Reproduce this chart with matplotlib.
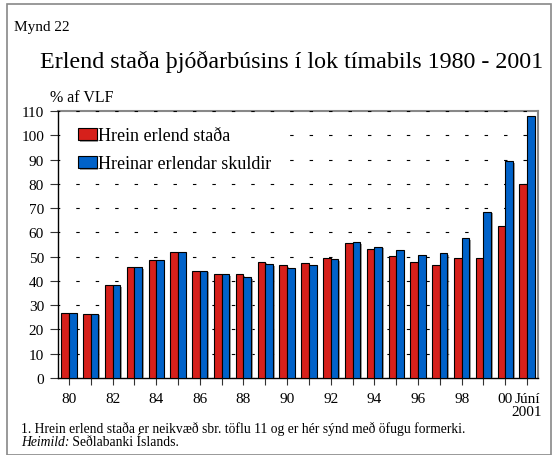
import matplotlib
matplotlib.use("Agg")
import matplotlib.pyplot as plt
import matplotlib.patheffects as pe
import numpy as np
from matplotlib.patches import Rectangle

plt.rcParams['font.family'] = ['Liberation Serif', 'DejaVu Serif']

# gögn, % af VLF
years = ["80", "81", "82", "83", "84", "85", "86", "87", "88", "89", "90",
         "91", "92", "93", "94", "95", "96", "97", "98", "99", "00", "Júní\n2001"]
hrein_stada = [26.8, 26.5, 38.2, 45.7, 48.7, 52.0, 44.2, 42.8, 42.8, 47.9, 46.4,
               47.4, 49.4, 55.8, 53.1, 50.4, 47.8, 46.6, 49.3, 49.3, 62.5, 79.8]
hreinar_skuldir = [26.8, 26.5, 38.2, 45.7, 48.7, 52.0, 44.2, 42.8, 41.6, 47.0, 45.3,
                   46.6, 49.0, 56.0, 54.1, 52.6, 50.8, 51.4, 57.5, 68.5, 89.3, 107.8]
yticks = list(range(0, 111, 10))

red = "#d6201b"
blue = "#0062c9"

fig = plt.figure(figsize=(5.58, 4.56), dpi=100)
ax = fig.add_axes([58 / 558, 77 / 456, 480 / 558, 267 / 456])

x = np.arange(len(years))
w = 0.35
shadow = [pe.SimplePatchShadow(offset=(1.2, -1.2), shadow_rgbFace="#777777", alpha=0.7), pe.Normal()]
b1 = ax.bar(x - w / 2, hrein_stada, w, color=red, edgecolor="black", linewidth=0.8,
            label="Hrein erlend staða", zorder=3)
b2 = ax.bar(x + w / 2, hreinar_skuldir, w, color=blue, edgecolor="black", linewidth=0.8,
            label="Hreinar erlendar skuldir", zorder=3)
for p in list(b1) + list(b2):
    p.set_path_effects(shadow)

ax.set_xlim(-0.5, 21.5)
ax.set_ylim(0, 110)
ax.set_yticks(yticks)
ax.set_yticklabels([str(v) for v in yticks], fontsize=11)
ax.set_xticks(x)
ax.set_xticklabels([lab if i % 2 == 0 or i == len(years) - 1 else "" for i, lab in enumerate(years)],
                   fontsize=11, linespacing=1.0)
ax.tick_params(axis="both", direction="out", length=6, width=0.8, color="#333333", pad=4)
ax.tick_params(axis="x", length=5, pad=5)

ax.yaxis.grid(True, linestyle=(1.5, (3.1, 14.4)), color="black", linewidth=0.8, zorder=0)
ax.set_axisbelow(True)
for s in ["top", "right"]:
    ax.spines[s].set_color("#888888")
    ax.spines[s].set_linewidth(1.5)
ax.spines["top"].set_zorder(0.5)
for s in ["left", "bottom"]:
    ax.spines[s].set_color("black")
    ax.spines[s].set_linewidth(1.0)

leg = ax.legend(loc="upper left", bbox_to_anchor=(0.031, 0.96), fontsize=13,
                frameon=True, fancybox=False, framealpha=1, edgecolor="none",
                handlelength=1.02, handleheight=0.68, handletextpad=0.09,
                labelspacing=0.61, borderpad=0.3, borderaxespad=0)
leg.set_zorder(4)

fig.text(14 / 558, 1 - 28 / 456, "Mynd 22", fontsize=11, va="center", ha="left")
fig.text(292 / 558, 1 - 62 / 456, "Erlend staða þjóðarbúsins í lok tímabils 1980 - 2001",
         fontsize=17.3, va="center", ha="center")
fig.text(50 / 558, 1 - 98 / 456, "% af VLF", fontsize=11.5, va="center", ha="left")
fig.text(21 / 558, 1 - 429 / 456,
         "1. Hrein erlend staða er neikvæð sbr. töflu 11 og er hér sýnd með öfugu formerki.",
         fontsize=9.8, va="center", ha="left")
heim = fig.text(21 / 558, 1 - 443 / 456, "Heimild:", fontsize=9.8, va="center", ha="left",
                style="italic")
# heimildin sjálf kemur beint á eftir skáletraða orðinu
fig.add_artist(plt.Annotation(" Seðlabanki Íslands.", xy=(1, 0.5), xycoords=heim,
                              va="center", ha="left", fontsize=9.8))

fig.patches.append(Rectangle((7 / 558, 0), 544 / 558, 451 / 456, transform=fig.transFigure,
                             fill=False, edgecolor="#888888", linewidth=1.2))

fig.savefig("out.png", dpi=100)
